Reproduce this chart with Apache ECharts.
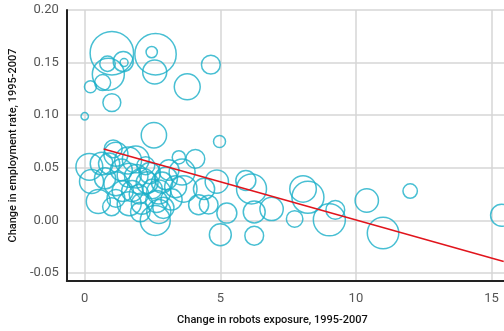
<!DOCTYPE html>
<html>
<head>
<meta charset="utf-8">
<script src="https://cdn.jsdelivr.net/npm/echarts@6/dist/echarts.min.js"></script>
<style>html,body{margin:0;padding:0;background:#fff}#c{width:504px;height:331px}</style>
</head>
<body>
<div id="c"></div>
<script>
// robots exposure change (x), employment-rate change (y), population weight (w)
const robotsX = [1.00,2.61,2.47,2.58,4.65,3.78,0.87,0.84,1.42,1.45,0.66,0.21,1.00,0.00,2.55,4.97,
  5.94,6.15,8.05,8.23,6.25,6.89,7.74,9.02,9.24,10.4,12.0,11.0,6.25,15.37,4.08,3.47,4.87,5.24,5.00,4.57,4.20,3.65,3.59,
  0.17,1.05,1.15,0.62,0.25,0.50,1.60,1.64,2.60,2.73,2.12,1.15,1.88,2.73,1.64,0.90,1.15,2.11,0.99,2.90,3.00,2.40,2.50,3.20,2.25,1.40,4.40,2.00,
  1.35,1.90,2.30,2.85,3.35,1.75,2.05,2.65,3.10,0.75];
const employY = [0.159,0.158,0.160,0.141,0.148,0.127,0.139,0.149,0.151,0.150,0.131,0.127,0.112,0.099,0.081,0.075,
  0.038,0.030,0.030,0.022,0.008,0.011,0.0015,0.0006,0.010,0.019,0.028,-0.012,-0.0145,0.005,0.0585,0.060,0.037,0.007,-0.0135,0.015,0.015,0.030,0.046,
  0.051,0.068,0.063,0.054,0.037,0.018,0.057,0.016,0.000,0.0085,0.037,0.035,0.058,0.027,0.043,0.054,0.021,0.016,0.013,0.012,0.040,0.045,0.030,0.020,0.052,0.028,0.030,0.025,
  0.048,0.042,0.036,0.036,0.032,0.028,0.008,0.018,0.048,0.040];
const weight = [118,107,8,36,22,42,64,15,25,4,16,9,20,3.4,40,9,
  25,56,44,64,30,34,17,64,22,34,13,62,22,30,22,11,34,25,30,22,25,44,42,
  45,20,36,32,36,36,45,36,56,36,45,36,45,36,36,28,20,28,20,28,32,28,24,28,20,28,28,24,
  30,34,30,28,30,28,24,30,26,28];
const trendX = [0.7, 15.45];
const trendY = [0.068, -0.039];
const xTicks = [0, 5, 10, 15];
const yTicks = [-0.05, 0, 0.05, 0.10, 0.15, 0.20];

const bubbles = robotsX.map((x, i) => [x, employY[i], weight[i]]);
const trend = trendX.map((x, i) => [x, trendY[i]]);

const chart = echarts.init(document.getElementById('c'), null, {renderer: 'canvas'});
chart.setOption({
  animation: false,
  backgroundColor: '#fff',
  textStyle: {fontFamily: 'Roboto'},
  grid: {left: 64, right: 0, top: 10, bottom: 48, containLabel: false},
  xAxis: {
    type: 'value', min: -0.66, max: 15.46,
    name: 'Change in robots exposure, 1995-2007',
    nameLocation: 'middle', nameGap: 34,
    nameTextStyle: {fontFamily: 'Roboto', fontSize: 11, fontWeight: 500, color: '#111', padding: [0, 26, 0, 0]},
    axisLine: {show: true, onZero: false, lineStyle: {color: '#222', width: 2}},
    axisTick: {show: false, customValues: xTicks},
    axisLabel: {customValues: xTicks, color: '#555', fontSize: 13, margin: 11, fontFamily: 'Roboto'},
    splitLine: {show: true, lineStyle: {color: '#d6d6d6', width: 1.5}}
  },
  yAxis: {
    type: 'value', min: -0.0575, max: 0.2,
    name: 'Change in employment rate, 1995-2007',
    nameLocation: 'middle', nameGap: 36,
    nameTextStyle: {fontFamily: 'Roboto', fontSize: 11, fontWeight: 500, color: '#111'},
    axisLine: {show: true, onZero: false, lineStyle: {color: '#222', width: 2}},
    axisTick: {show: false, customValues: yTicks},
    axisLabel: {customValues: yTicks, color: '#555', fontSize: 13, margin: 8, fontFamily: 'Roboto',
      formatter: v => v.toFixed(2)},
    splitLine: {show: true, lineStyle: {color: '#d6d6d6', width: 1.5}}
  },
  series: [
    {
      type: 'scatter', data: bubbles, clip: false,
      symbol: 'circle',
      symbolSize: d => 4 * Math.sqrt(d[2]),
      itemStyle: {color: 'rgba(0,0,0,0)', borderColor: '#1aafc8', borderWidth: 1.5},
      emphasis: {disabled: true}, z: 2
    },
    {
      type: 'line', data: trend, symbol: 'none', z: 3,
      lineStyle: {color: '#e1141c', width: 1.5},
      emphasis: {disabled: true}
    }
  ]
});
</script>
</body>
</html>
